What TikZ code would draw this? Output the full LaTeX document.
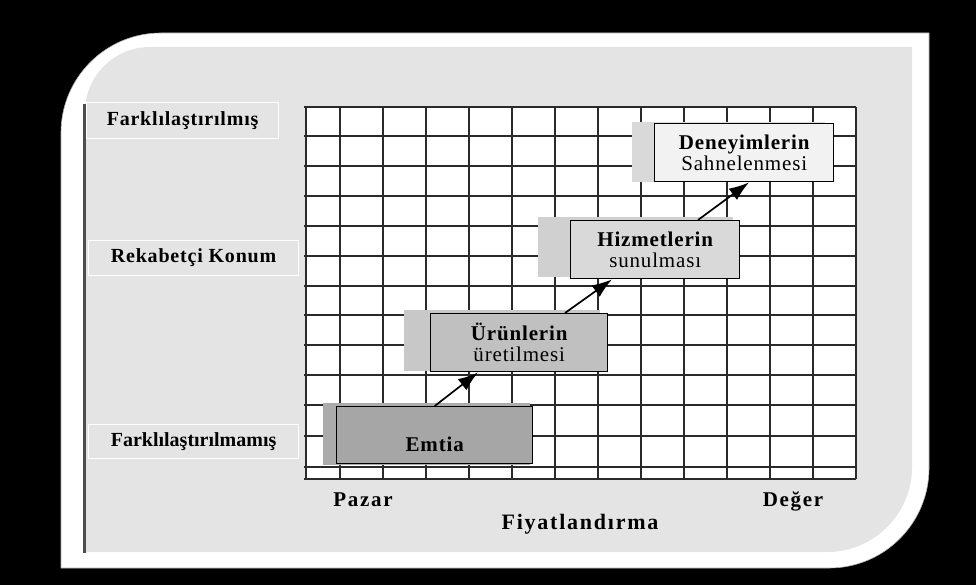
\documentclass[tikz,border=0pt]{standalone}
\usepackage{fontspec}
\setmainfont{Liberation Serif}
\newfontfamily\lblfont[LetterSpace=4]{Liberation Serif}
\newfontfamily\boxfont[LetterSpace=4]{Liberation Serif}
\newfontfamily\axisfont[LetterSpace=8]{Liberation Serif}
\usetikzlibrary{arrows.meta,calc}

\definecolor{panelgray}{HTML}{E4E4E4}
\definecolor{gridline}{HTML}{2A2A2A}
\definecolor{edgeline}{HTML}{4D4D4D}
\definecolor{fillA}{HTML}{A6A6A6}
\definecolor{shadeA}{HTML}{ABABAB}
\definecolor{fillB}{HTML}{C0C0C0}
\definecolor{shadeB}{HTML}{C8C8C8}
\definecolor{fillC}{HTML}{D9D9D9}
\definecolor{shadeC}{HTML}{D0D0D0}
\definecolor{fillD}{HTML}{F2F2F2}
\definecolor{shadeD}{HTML}{D9D9D9}

\tikzset{
  sidelbl/.style={draw=white, line width=1.2pt, fill=panelgray, inner sep=0pt,
    anchor=north west, font=\lblfont\bfseries\fontsize{20}{24}\selectfont},
  stagebox/.style={draw=black, line width=1.4pt, inner sep=0pt, anchor=north west,
    align=center, font=\boxfont\fontsize{21}{21}\selectfont},
  axislbl/.style={inner sep=0pt, anchor=base, font=\axisfont\bfseries\fontsize{21}{24}\selectfont},
  flow/.style={-{Latex[length=20pt,width=14pt]}, line width=1.7pt, draw=black},
  gridrule/.style={draw=gridline, line width=2pt},
}

\begin{document}
\begin{tikzpicture}[x=1pt,y=-1pt]
\useasboundingbox (0,0) rectangle (976,585);
\fill[black] (0,0) rectangle (976,585);

% white frame with two rounded corners
\path[fill=white, draw=gray!60, line width=0.6pt]
  (61,568) -- (61,133) arc[start angle=180, end angle=270, radius=100]
  -- (929,33) -- (929,468) arc[start angle=0, end angle=90, radius=100] -- cycle;
% grey panel inside the frame
\fill[panelgray]
  (85,552) -- (85,112) arc[start angle=180, end angle=270, radius=65]
  -- (912,47) -- (912,467) arc[start angle=0, end angle=90, radius=85] -- cycle;
\draw[edgeline, line width=3pt] (84,104) -- (84,553);

% grid
\fill[white] (306,107) rectangle (856,479);
\foreach \gx in {306,340,383,426,469,512,555,598,641,684,727,770,813,856}
  \draw[gridrule] (\gx,107) -- (\gx,479);
\foreach \gy in {107,136,166,196,226,256,286,315,345,375,405,436,467,479}
  \draw[gridrule] (304,\gy) -- (856,\gy);

% side labels
\node[sidelbl, minimum width=192, minimum height=36] (ldiff) at (86,102) {Farklılaştırılmış};
\node[sidelbl, minimum width=210, minimum height=35] (lcomp) at (88,240) {Rekabetçi Konum};
\node[sidelbl, minimum width=210, minimum height=34,
  font=\bfseries\fontsize{20}{24}\selectfont] (lundiff) at (88,424) {Farklılaştırılmamış};

% stage boxes with their offset backing strips
\fill[shadeA] (323,403) rectangle (530,465);
\node[stagebox, fill=fillA, minimum width=196, minimum height=57] (emtia) at (336,406) {};
\node[font=\boxfont\bfseries\fontsize{21}{21}\selectfont, inner sep=0pt] (emtiatxt)
  at ($(emtia.center)+(0,9)$) {Emtia};

\fill[shadeB] (404,310) rectangle (600,371);
\node[stagebox, fill=fillB, minimum width=177, minimum height=58] (urun) at (430,313)
  {{\bfseries Ürünlerin}\\üretilmesi};

\fill[shadeC] (538,217) rectangle (733,277);
\node[stagebox, fill=fillC, minimum width=169, minimum height=58] (hizmet) at (570,220)
  {{\bfseries Hizmetlerin}\\sunulması};

\fill[shadeD] (632,122) rectangle (825,182);
\node[stagebox, fill=fillD, minimum width=179, minimum height=58] (deneyim) at (654,123)
  {{\bfseries Deneyimlerin}\\Sahnelenmesi};

% progression arrows
\draw[flow] (emtia.north) -- ($(urun.south west)+(48,0)$);
\draw[flow] ($(urun.north west)+(135,0)$) -- ($(hizmet.south west)+(42,0)$);
\draw[flow] ($(hizmet.north west)+(128,0)$) -- ($(deneyim.south west)+(95,0)$);

% axis labels
\node[axislbl] (pazar) at (363,506) {Pazar};
\node[axislbl] (deger) at (793,506) {Değer};
\node[axislbl, font=\axisfont\bfseries\fontsize{22}{24}\selectfont] (fiyat) at (580,529) {Fiyatlandırma};
\end{tikzpicture}
\end{document}
